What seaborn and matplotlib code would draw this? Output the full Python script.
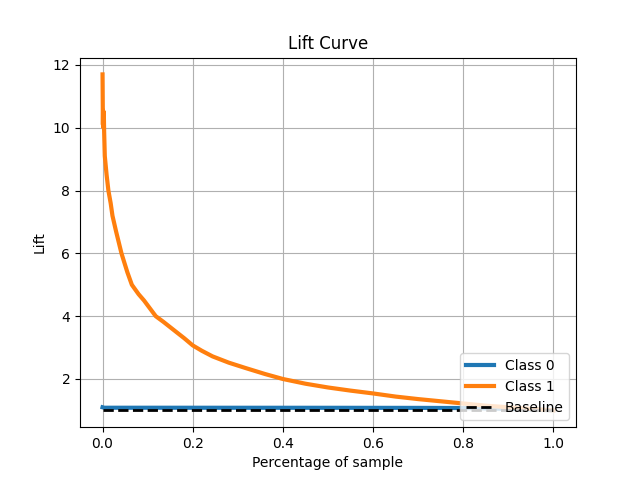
import matplotlib
matplotlib.use("Agg")
import matplotlib.pyplot as plt
import seaborn as sns
import pandas as pd

# Data
class1_pct = [0.0, 0.0008, 0.0012, 0.002, 0.0028, 0.0035, 0.005, 0.009, 0.013, 0.018,
              0.022, 0.03, 0.042, 0.055, 0.065, 0.08, 0.092, 0.105, 0.118, 0.135,
              0.15, 0.165, 0.181, 0.2, 0.22, 0.244, 0.28, 0.317, 0.36, 0.4,
              0.45, 0.5, 0.55, 0.6, 0.65, 0.7, 0.75, 0.8, 0.85, 0.9, 0.95, 1.0]
class1_lift = [11.7, 10.1, 10.55, 10.0, 10.5, 9.9, 9.1, 8.5, 8.0, 7.6,
               7.2, 6.7, 6.0, 5.4, 5.0, 4.7, 4.5, 4.25, 4.0, 3.82,
               3.65, 3.48, 3.3, 3.07, 2.9, 2.72, 2.52, 2.35, 2.16, 2.0,
               1.85, 1.73, 1.63, 1.54, 1.44, 1.36, 1.29, 1.22, 1.15, 1.1, 1.05, 1.0]
class0_pct = [0.0, 0.004, 0.1, 0.3, 0.5, 0.7, 0.8, 0.85, 0.9, 0.95, 1.0]
class0_lift = [1.1, 1.085, 1.085, 1.084, 1.083, 1.08, 1.075, 1.065, 1.05, 1.03, 1.0]
baseline_pct = [0.0, 1.0]
baseline_lift = [1.0, 1.0]

df1 = pd.DataFrame({"pct": class1_pct, "lift": class1_lift})
df0 = pd.DataFrame({"pct": class0_pct, "lift": class0_lift})
dfb = pd.DataFrame({"pct": baseline_pct, "lift": baseline_lift})

fig, ax = plt.subplots(figsize=(6.4, 4.8), dpi=100)
sns.lineplot(data=df0, x="pct", y="lift", ax=ax, color="#1f77b4", lw=3,
             label="Class 0", sort=False, estimator=None)
sns.lineplot(data=df1, x="pct", y="lift", ax=ax, color="#ff7f0e", lw=3,
             label="Class 1", sort=False, estimator=None)
sns.lineplot(data=dfb, x="pct", y="lift", ax=ax, color="k", lw=2, linestyle="--",
             label="Baseline", sort=False, estimator=None)

ax.set_title("Lift Curve", fontsize="large")
ax.set_xlabel("Percentage of sample", fontsize="medium")
ax.set_ylabel("Lift", fontsize="medium")
ax.tick_params(labelsize="medium")
ax.grid(True)
ax.legend(loc="lower right", fontsize="medium")

fig.savefig("out.png", dpi=100)
